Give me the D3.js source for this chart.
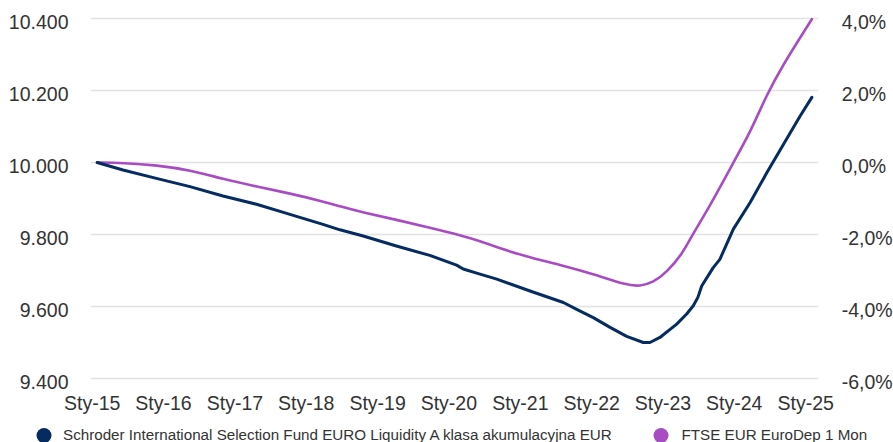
<!DOCTYPE html>
<html>
<head>
<meta charset="utf-8">
<script src="https://cdn.jsdelivr.net/npm/d3@7"></script>
<style>
  html, body { margin: 0; padding: 0; background: #fff; }
  svg { display: block; }
  text { font-family: "Liberation Sans", Arial, Helvetica, sans-serif; fill: #333; }
</style>
</head>
<body>
<svg id="chart" width="893" height="442"></svg>
<script>
// ---- data ----
const fundName = "Schroder International Selection Fund EURO Liquidity A klasa akumulacyjna EUR";
const benchName = "FTSE EUR EuroDep 1 Mon";

const fundDates = ["2015-01-29","2015-06-10","2015-11-28","2016-05-18","2016-11-03","2017-04-24","2017-10-12",
  "2018-03-30","2018-06-25","2018-10-22","2019-04-10","2019-09-28","2020-02-12","2020-03-17","2020-06-11",
  "2020-09-05","2021-02-22","2021-08-12","2021-10-19","2022-01-12","2022-04-08","2022-07-02","2022-09-25",
  "2022-10-29","2022-12-19","2023-03-15","2023-05-05","2023-06-08","2023-07-02","2023-07-21","2023-09-18",
  "2023-10-22","2023-12-30","2024-03-25","2024-06-19","2024-09-12","2024-12-06","2025-02-04"];
const fundValues = [10000,9979,9956,9933,9907,9884,9856,
  9828,9813,9796,9768,9742,9715,9704,9690,
  9676,9643,9611,9592,9569,9542,9517,9500,
  9500,9514,9551,9579,9602,9626,9657,9708,
  9731,9815,9889,9972,10051,10129,10181];

const benchDates = ["2015-01-29","2015-06-10","2015-12-01","2016-05-18","2016-11-03","2017-04-26","2017-10-12",
  "2018-03-30","2018-06-25","2018-10-22","2019-04-10","2019-09-28","2020-03-17","2020-06-11","2020-09-05",
  "2021-02-22","2021-08-12","2022-01-12","2022-07-02","2022-09-08","2022-11-15","2023-01-22","2023-04-17",
  "2023-05-21","2023-09-01","2023-12-30","2024-03-25","2024-06-19","2024-09-12","2024-12-06","2025-02-04"];
const benchValues = [0.00,-0.01,-0.075,-0.21,-0.46,-0.67,-0.86,
  -1.08,-1.22,-1.39,-1.59,-1.81,-2.04,-2.18,-2.36,
  -2.64,-2.87,-3.10,-3.41,-3.44,-3.33,-3.06,-2.50,
  -2.13,-1.21,0.00,0.83,1.90,2.73,3.47,3.98];

const leftTicks = [9400,9600,9800,10000,10200,10400];
const rightTicks = [-6,-4,-2,0,2,4];
const xTickYears = [2015,2016,2017,2018,2019,2020,2021,2022,2023,2024,2025];
const monthPrefix = "Sty-";

// ---- setup ----
const parse = d3.utcParse("%Y-%m-%d");
const fund = fundDates.map((d,i) => ({date: parse(d), v: fundValues[i]}));
const bench = benchDates.map((d,i) => ({date: parse(d), v: benchValues[i]}));

const svg = d3.select("#chart");
const plot = {left: 91, right: 818.3, top: 18.5, bottom: 378.5};

const x = d3.scaleUtc()
  .domain([Date.UTC(2015,0,1), Date.UTC(2025,2,9)])
  .range([91.7, 818.3]);
const yL = d3.scaleLinear().domain([9400,10400]).range([plot.bottom, plot.top]);
const yR = d3.scaleLinear().domain([-6,4]).range([plot.bottom, plot.top]);

const pl = d3.formatLocale({decimal: ",", thousands: ".", grouping: [3], currency: ["", " zł"], minus: "-"});
const fmtL = pl.format(",.0f");
const fmtR = pl.format(".1f");

const FONT = '"Liberation Sans", Arial, sans-serif';

// gridlines
svg.append("g").selectAll("line").data(leftTicks).join("line")
  .attr("x1", plot.left).attr("x2", plot.right)
  .attr("y1", d => yL(d)).attr("y2", d => yL(d))
  .attr("stroke", "#e2e2e2").attr("stroke-width", 1.6);

// left axis
const gL = svg.append("g").attr("transform", "translate(68.5,0)")
  .call(d3.axisLeft(yL).tickValues(leftTicks).tickFormat(fmtL).tickSize(0).tickPadding(0));
gL.select(".domain").remove();
gL.selectAll("text").attr("dy", "9.5").attr("font-size", "19.5px")
  .style("font-family", FONT).attr("fill", "#333");

// right axis
const gR = svg.append("g").attr("transform", "translate(841.7,0)")
  .call(d3.axisRight(yR).tickValues(rightTicks).tickFormat(d => fmtR(d) + "%").tickSize(0).tickPadding(0));
gR.select(".domain").remove();
gR.selectAll("text").attr("dy", "9.5").attr("font-size", "19.5px")
  .style("font-family", FONT).attr("fill", "#333");

// x axis
const gX = svg.append("g").attr("transform", "translate(0,396)")
  .call(d3.axisBottom(x)
    .tickValues(xTickYears.map(yv => new Date(Date.UTC(yv,0,1))))
    .tickFormat(d => monthPrefix + String(d.getUTCFullYear()).slice(2))
    .tickSize(0).tickPadding(0));
gX.select(".domain").remove();
gX.selectAll("text").attr("dy", "14").attr("y", 0).attr("font-size", "19.5px")
  .style("font-family", FONT).attr("fill", "#333");

// lines
const lineFund = d3.line().x(d => x(d.date)).y(d => yL(d.v)).curve(d3.curveLinear);
const lineBench = d3.line().x(d => x(d.date)).y(d => yR(d.v)).curve(d3.curveBasis);

svg.append("path").datum(bench).attr("d", lineBench)
  .attr("fill", "none").attr("stroke", "#a84cc4").attr("stroke-width", 2.6)
  .attr("stroke-linejoin", "round").attr("stroke-linecap", "round");
svg.append("path").datum(fund).attr("d", lineFund)
  .attr("fill", "none").attr("stroke", "#052b60").attr("stroke-width", 3)
  .attr("stroke-linejoin", "round").attr("stroke-linecap", "round");

// legend
const legend = [
  {name: fundName, color: "#052b60", cx: 44, tx: 63},
  {name: benchName, color: "#a84cc4", cx: 661, tx: 681.5}
];
const lg = svg.append("g");
lg.selectAll("circle").data(legend).join("circle")
  .attr("cx", d => d.cx).attr("cy", 435.5).attr("r", 7.5).attr("fill", d => d.color);
lg.selectAll("text").data(legend).join("text")
  .attr("x", d => d.tx).attr("y", 439.5).attr("font-size", "15.2px")
  .style("font-family", FONT).attr("fill", "#333").text(d => d.name);
</script>
</body>
</html>
